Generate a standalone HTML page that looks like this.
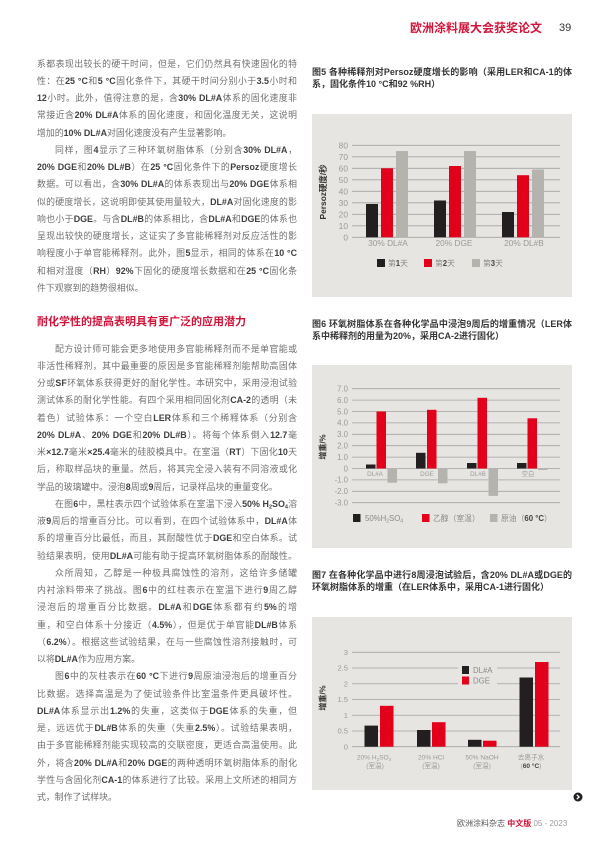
<!DOCTYPE html>
<html><head><meta charset="utf-8">
<style>
html,body{margin:0;padding:0;background:#fff;}
body{width:600px;height:849px;position:relative;overflow:hidden;font-family:"Liberation Sans","Noto Sans CJK SC",sans-serif;}
.l{position:absolute;left:37px;width:260px;height:12px;line-height:12px;font-size:8.9px;color:#707070;white-space:nowrap;}
.j{text-align:justify;text-align-last:justify;white-space:normal;overflow:hidden;}
.i{padding-left:18px;width:242px;}
.l b{font-weight:bold;color:#3f3f3f;}
.l sub{font-size:5.5px;line-height:0;vertical-align:-1.5px;}
.h{position:absolute;left:37px;top:315px;font-size:11px;line-height:14px;font-weight:bold;color:#d2143a;white-space:nowrap;}
.c{position:absolute;left:312px;width:260px;height:11.5px;line-height:11.5px;font-size:9px;font-weight:bold;color:#363636;white-space:nowrap;}
.cj{text-align:justify;text-align-last:justify;white-space:normal;overflow:hidden;}
.hdr{position:absolute;left:410px;top:21px;font-size:12px;line-height:14px;font-weight:bold;color:#d2143a;white-space:nowrap;}
.pg{position:absolute;left:559px;top:22px;font-size:11px;line-height:13px;color:#333;}
.ftr{position:absolute;left:457px;top:819px;font-size:8px;line-height:10px;color:#555;white-space:nowrap;}
svg{position:absolute;left:0;top:0;}
</style></head>
<body>
<div class="hdr">欧洲涂料展大会获奖论文</div>
<div class="pg">39</div>

<div class="l j" style="top:57.5px">系都表现出较长的硬干时间，但是，它们仍然具有快速固化的特</div>
<div class="l j" style="top:74.75px">性：在<b>25 °C</b>和<b>5 °C</b>固化条件下，其硬干时间分别小于<b>3.5</b>小时和</div>
<div class="l j" style="top:92px"><b>12</b>小时。此外，值得注意的是，含<b>30% DL#A</b>体系的固化速度非</div>
<div class="l j" style="top:109.25px">常接近含<b>20% DL#A</b>体系的固化速度，和固化温度无关，这说明</div>
<div class="l" style="top:126.5px">增加的<b>10% DL#A</b>对固化速度没有产生显著影响。</div>
<div class="l j i" style="top:143.75px">同样，图<b>4</b>显示了三种环氧树脂体系（分别含<b>30% DL#A</b>，</div>
<div class="l j" style="top:161px"><b>20% DGE</b>和<b>20% DL#B</b>）在<b>25 °C</b>固化条件下的<b>Persoz</b>硬度增长</div>
<div class="l j" style="top:178.25px">数据。可以看出，含<b>30% DL#A</b>的体系表现出与<b>20% DGE</b>体系相</div>
<div class="l j" style="top:195.5px">似的硬度增长，这说明即使其使用量较大，<b>DL#A</b>对固化速度的影</div>
<div class="l j" style="top:212.75px">响也小于<b>DGE</b>。与含<b>DL#B</b>的体系相比，含<b>DL#A</b>和<b>DGE</b>的体系也</div>
<div class="l j" style="top:230px">呈现出较快的硬度增长，这证实了多官能稀释剂对反应活性的影</div>
<div class="l j" style="top:247.25px">响程度小于单官能稀释剂。此外，图<b>5</b>显示，相同的体系在<b>10 °C</b></div>
<div class="l j" style="top:264.5px">和相对湿度（<b>RH</b>）<b>92%</b>下固化的硬度增长数据和在<b>25 °C</b>固化条</div>
<div class="l" style="top:281.75px">件下观察到的趋势很相似。</div>

<div class="h">耐化学性的提高表明具有更广泛的应用潜力</div>

<div class="l j i" style="top:342.5px">配方设计师可能会更多地使用多官能稀释剂而不是单官能或</div>
<div class="l j" style="top:359.75px">非活性稀释剂，其中最重要的原因是多官能稀释剂能帮助高固体</div>
<div class="l j" style="top:377px">分或<b>SF</b>环氧体系获得更好的耐化学性。本研究中，采用浸泡试验</div>
<div class="l j" style="top:394.25px">测试体系的耐化学性能。有四个采用相同固化剂<b>CA-2</b>的透明（未</div>
<div class="l j" style="top:411.5px">着色）试验体系：一个空白<b>LER</b>体系和三个稀释体系（分别含</div>
<div class="l j" style="top:428.75px"><b>20% DL#A</b>、<b>20% DGE</b>和<b>20% DL#B</b>）。将每个体系倒入<b>12.7</b>毫</div>
<div class="l j" style="top:446px">米<b>×12.7</b>毫米<b>×25.4</b>毫米的硅胶模具中。在室温（<b>RT</b>）下固化<b>10</b>天</div>
<div class="l j" style="top:463.25px">后，称取样品块的重量。然后，将其完全浸入装有不同溶液或化</div>
<div class="l" style="top:480.5px">学品的玻璃罐中。浸泡<b>8</b>周或<b>9</b>周后，记录样品块的重量变化。</div>
<div class="l j i" style="top:497.75px">在图<b>6</b>中，黑柱表示四个试验体系在室温下浸入<b>50% H<sub>2</sub>SO<sub>4</sub></b>溶</div>
<div class="l j" style="top:515px">液<b>9</b>周后的增重百分比。可以看到，在四个试验体系中，<b>DL#A</b>体</div>
<div class="l j" style="top:532.25px">系的增重百分比最低，而且，其耐酸性优于<b>DGE</b>和空白体系。试</div>
<div class="l j" style="top:549.5px">验结果表明，使用<b>DL#A</b>可能有助于提高环氧树脂体系的耐酸性。</div>
<div class="l j i" style="top:566.75px">众所周知，乙醇是一种极具腐蚀性的溶剂，这给许多储罐</div>
<div class="l j" style="top:584px">内衬涂料带来了挑战。图<b>6</b>中的红柱表示在室温下进行<b>9</b>周乙醇</div>
<div class="l j" style="top:601.25px">浸泡后的增重百分比数据。<b>DL#A</b>和<b>DGE</b>体系都有约<b>5%</b>的增</div>
<div class="l j" style="top:618.5px">重，和空白体系十分接近（<b>4.5%</b>），但是优于单官能<b>DL#B</b>体系</div>
<div class="l j" style="top:635.75px">（<b>6.2%</b>）。根据这些试验结果，在与一些腐蚀性溶剂接触时，可</div>
<div class="l" style="top:653px">以将<b>DL#A</b>作为应用方案。</div>
<div class="l j i" style="top:670.25px">图<b>6</b>中的灰柱表示在<b>60 °C</b>下进行<b>9</b>周原油浸泡后的增重百分</div>
<div class="l j" style="top:687.5px">比数据。选择高温是为了使试验条件比室温条件更具破坏性。</div>
<div class="l j" style="top:704.75px"><b>DL#A</b>体系显示出<b>1.2%</b>的失重，这类似于<b>DGE</b>体系的失重，但</div>
<div class="l j" style="top:722px">是，远远优于<b>DL#B</b>体系的失重（失重<b>2.5%</b>）。试验结果表明，</div>
<div class="l j" style="top:739.25px">由于多官能稀释剂能实现较高的交联密度，更适合高温使用。此</div>
<div class="l j" style="top:756.5px">外，将含<b>20% DL#A</b>和<b>20% DGE</b>的两种透明环氧树脂体系的耐化</div>
<div class="l j" style="top:773.75px">学性与含固化剂<b>CA-1</b>的体系进行了比较。采用上文所述的相同方</div>
<div class="l" style="top:791px">式，制作了试样块。</div>

<div class="c cj" style="top:67.25px">图5 各种稀释剂对Persoz硬度增长的影响（采用LER和CA-1的体</div>
<div class="c" style="top:78.75px">系，固化条件10 °C和92 %RH）</div>
<div class="c cj" style="top:319.25px">图6 环氧树脂体系在各种化学品中浸泡9周后的增重情况（LER体</div>
<div class="c" style="top:330.75px">系中稀释剂的用量为20%，采用CA-2进行固化）</div>
<div class="c cj" style="top:570.25px">图7 在各种化学品中进行8周浸泡试验后，含20% DL#A或DGE的</div>
<div class="c" style="top:581.75px">环氧树脂体系的增重（在LER体系中，采用CA-1进行固化）</div>

<svg width="600" height="849" viewBox="0 0 600 849" font-family="Liberation Sans, Noto Sans CJK SC, sans-serif">
<!-- Chart 5 -->
<rect x="312" y="114" width="260" height="183" fill="#e6e5e1"/>
<g stroke="#a3a3a3" stroke-width="0.8">
<path d="M352 237.3H560M352 225.8H560M352 214.3H560M352 202.8H560M352 191.3H560M352 179.8H560M352 168.3H560M352 156.8H560M352 145.3H560"/>
</g>
<g font-size="8.4" fill="#9a9a9a" text-anchor="end">
<text x="348" y="240.3">0</text><text x="348" y="228.8">10</text><text x="348" y="217.3">20</text><text x="348" y="205.8">30</text><text x="348" y="194.3">40</text><text x="348" y="182.8">50</text><text x="348" y="171.3">60</text><text x="348" y="159.8">70</text><text x="348" y="148.3">80</text>
</g>
<g fill="#231f20"><rect x="366" y="203.95" width="12" height="33.35"/><rect x="434" y="200.5" width="12" height="36.8"/><rect x="502" y="212" width="12" height="25.3"/></g>
<g fill="#e3001b"><rect x="381" y="168.3" width="12" height="69"/><rect x="449" y="166" width="12" height="71.3"/><rect x="517" y="175.2" width="12" height="62.1"/></g>
<g fill="#b5b3ae"><rect x="396" y="151.05" width="12" height="86.25"/><rect x="464" y="151.05" width="12" height="86.25"/><rect x="532" y="169.45" width="12" height="67.85"/></g>
<g font-size="8.3" fill="#9a9a9a" text-anchor="middle">
<text x="388" y="246">30% DL#A</text><text x="454" y="246">20% DGE</text><text x="524" y="246">20% DL#B</text>
</g>
<rect x="377" y="259" width="8" height="8" fill="#231f20"/>
<rect x="424" y="259" width="8" height="8" fill="#e3001b"/>
<rect x="472" y="259" width="8" height="8" fill="#b5b3ae"/>
<g font-size="7.8" fill="#8a8a8a">
<text x="388" y="266">第<tspan font-weight="bold" fill="#444">1</tspan>天</text>
<text x="435" y="266">第<tspan font-weight="bold" fill="#444">2</tspan>天</text>
<text x="483" y="266">第<tspan font-weight="bold" fill="#444">3</tspan>天</text>
</g>
<text x="323" y="192" font-size="8.4" font-weight="bold" fill="#333" text-anchor="middle" dominant-baseline="central" transform="rotate(-90 323 192)">Persoz硬度/秒</text>

<!-- Chart 6 -->
<rect x="312" y="365" width="260" height="183" fill="#e6e5e1"/>
<g stroke="#a3a3a3" stroke-width="0.8">
<path d="M352 502.7H560M352 491.3H560M352 479.9H560M352 468.5H560M352 457.1H560M352 445.7H560M352 434.3H560M352 422.9H560M352 411.5H560M352 400.1H560M352 388.7H560"/>
</g>
<g font-size="7.8" fill="#9a9a9a" text-anchor="end">
<text x="348" y="391.5">7.0</text><text x="348" y="402.9">6.0</text><text x="348" y="414.3">5.0</text><text x="348" y="425.7">4.0</text><text x="348" y="437.1">3.0</text><text x="348" y="448.5">2.0</text><text x="348" y="459.9">1.0</text><text x="348" y="471.3">0</text><text x="348" y="482.7">-1.0</text><text x="348" y="494.1">-2.0</text><text x="348" y="505.5">-3.0</text>
</g>
<g fill="#231f20"><rect x="366" y="464.5" width="9.5" height="4"/><rect x="416" y="452.8" width="9.5" height="15.7"/><rect x="467" y="463" width="9.5" height="5.5"/><rect x="517" y="463" width="9.5" height="5.5"/></g>
<g fill="#e3001b"><rect x="376.5" y="411.5" width="9.5" height="57"/><rect x="427" y="409.8" width="9.5" height="58.7"/><rect x="477.5" y="397.8" width="9.5" height="70.7"/><rect x="527.5" y="418.3" width="9.5" height="50.2"/></g>
<g fill="#b5b3ae"><rect x="387.5" y="468.5" width="9.5" height="14.25"/><rect x="438" y="468.5" width="9.5" height="14.8"/><rect x="488.5" y="468.5" width="9.5" height="27.4"/><rect x="538" y="468.5" width="9.5" height="1.5"/></g>
<g font-size="6.3" fill="#9a9a9a" text-anchor="middle">
<text x="375" y="476">DL#A</text><text x="427" y="476">DGE</text><text x="478" y="476">DL#B</text><text x="528" y="476">空白</text>
</g>
<rect x="353" y="514" width="7.5" height="8" fill="#231f20"/>
<rect x="422" y="514" width="7.5" height="8" fill="#e3001b"/>
<rect x="490" y="514" width="7.5" height="8" fill="#b5b3ae"/>
<g font-size="7.8" fill="#8a8a8a">
<text x="365" y="521">50%H<tspan font-size="5" dy="1.5">2</tspan><tspan dy="-1.5">SO</tspan><tspan font-size="5" dy="1.5">4</tspan></text>
<text x="433" y="521">乙醇（室温）</text>
<text x="501" y="521">原油（<tspan font-weight="bold" fill="#444">60 °C</tspan>）</text>
</g>
<text x="323" y="447" font-size="8" font-weight="bold" fill="#333" text-anchor="middle" dominant-baseline="central" transform="rotate(-90 323 447)">增重/%</text>

<!-- Chart 7 -->
<rect x="312" y="617" width="260" height="173" fill="#e6e5e1"/>
<g stroke="#a3a3a3" stroke-width="0.8">
<path d="M352 746.7H560M352 730.97H560M352 715.23H560M352 699.5H560M352 683.76H560M352 668.03H560M352 652.29H560"/>
</g>
<g font-size="7.6" fill="#9a9a9a" text-anchor="end">
<text x="348" y="749.4">0</text><text x="348" y="733.7">0.5</text><text x="348" y="718">1</text><text x="348" y="702.2">1.5</text><text x="348" y="686.5">2</text><text x="348" y="670.7">2.5</text><text x="348" y="655">3</text>
</g>
<g fill="#231f20"><rect x="364.5" y="725.6" width="13.5" height="21.1"/><rect x="417" y="730" width="13.5" height="16.7"/><rect x="468" y="739.8" width="13.5" height="6.9"/><rect x="519.5" y="677.5" width="13.5" height="69.2"/></g>
<g fill="#e3001b"><rect x="380" y="705.8" width="13.5" height="40.9"/><rect x="432" y="722.2" width="13.5" height="24.5"/><rect x="483" y="740.7" width="13.5" height="6"/><rect x="535" y="662" width="13.5" height="84.7"/></g>
<rect x="458" y="663" width="39" height="26" fill="#e6e5e1"/>
<rect x="462" y="666" width="7" height="8" fill="#231f20"/>
<rect x="462" y="676.5" width="7" height="8" fill="#e3001b"/>
<g font-size="7.8" fill="#8a8a8a">
<text x="473" y="673">DL#A</text><text x="473" y="683.5">DGE</text>
</g>
<g font-size="6.6" fill="#9a9a9a" text-anchor="middle">
<text x="374" y="759.5">20% H<tspan font-size="4.5" dy="1.3">2</tspan><tspan dy="-1.3">SO</tspan><tspan font-size="4.5" dy="1.3">4</tspan></text>
<text x="375" y="768">(室温)</text>
<text x="431" y="759.5">20% HCl</text>
<text x="431" y="768">(室温)</text>
<text x="482" y="759.5">50% NaOH</text>
<text x="482" y="768">(室温)</text>
<text x="531" y="759.5">去离子水</text>
<text x="531" y="768">(<tspan font-weight="bold" fill="#444">60 °C</tspan>)</text>
</g>
<text x="323" y="698" font-size="8" font-weight="bold" fill="#333" text-anchor="middle" dominant-baseline="central" transform="rotate(-90 323 698)">增重/%</text>

<circle cx="578" cy="797" r="4.5" fill="#222"/>
<path d="M576.8 794.8L579.1 797L576.8 799.2" stroke="#fff" stroke-width="1.3" fill="none"/>
</svg>

<div class="ftr">欧洲涂料杂志 <span style="color:#d2143a;font-weight:bold">中文版</span> <span style="color:#9a9a9a">05 - 2023</span></div>
</body></html>
